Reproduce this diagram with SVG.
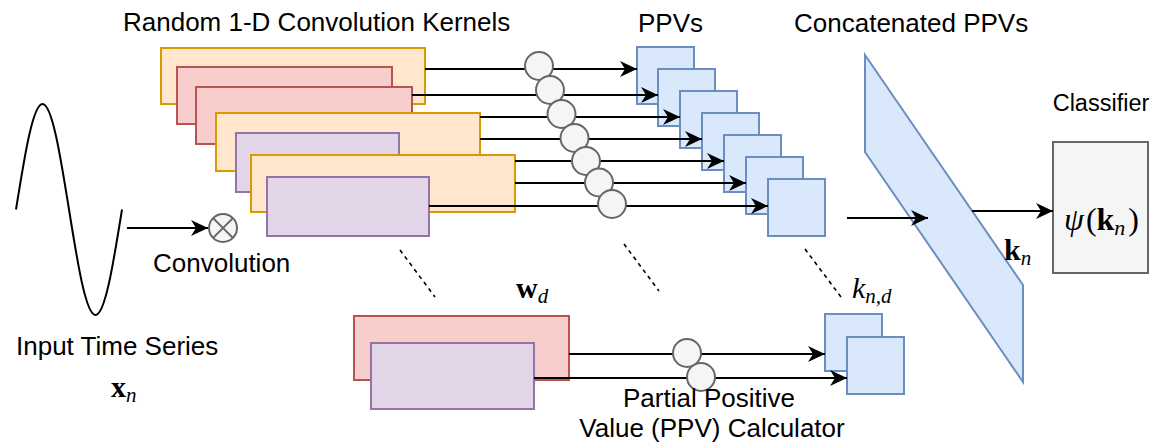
<svg xmlns="http://www.w3.org/2000/svg" width="1151" height="445" viewBox="0 0 1151 445">
  <style>
    .lbl { font-family: "Liberation Sans", Arial, Helvetica, sans-serif; font-size: 26px; fill: #000; }
    .small { font-size: 23.5px; }
    .math { font-family: "Liberation Serif", "DejaVu Serif", serif; font-size: 30px; fill: #000; }
    .sub { font-size: 21px; font-style: italic; }
    .orange { fill: #ffe6cc; stroke: #d79b00; stroke-width: 2; }
    .red { fill: #f8cecc; stroke: #b85450; stroke-width: 2; }
    .purple { fill: #e1d5e7; stroke: #9673a6; stroke-width: 2; }
    .blue { fill: #dae8fc; stroke: #6c8ebf; stroke-width: 2; }
    .calc { fill: #f5f5f5; stroke: #666666; stroke-width: 2; }
    .edge { fill: none; stroke: #000; stroke-width: 2; }
    .dash { fill: none; stroke: #000; stroke-width: 1.6; stroke-dasharray: 4 4; }
  </style>
  <defs>
    <marker id="arrow" markerUnits="userSpaceOnUse" viewBox="0 0 17 16" markerWidth="17" markerHeight="16" refX="17" refY="8" orient="auto">
      <path d="M0,0 L17,8 L0,16 L5,8 Z" fill="#000"/>
    </marker>
  </defs>

  <!-- input signal -->
  <g id="input-series">
    <path class="edge" d="M16,209.5 C24.64,155.45 32.91,104 42.5,104 C52.09,104 60.36,155.45 69,209.5 C77.64,263.55 85.91,315 95.5,315 C105.09,315 113.36,263.55 122,209.5"/>
    <text class="lbl" x="16" y="355">Input Time Series</text>
    <text class="math" x="111" y="397"><tspan font-weight="bold">x</tspan><tspan class="sub" dy="5">n</tspan></text>
  </g>

  <!-- convolution operator -->
  <g id="convolution">
    <circle class="calc" cx="223" cy="228" r="14"/>
    <path d="M213.1,218.1 L232.9,237.9 M232.9,218.1 L213.1,237.9" stroke="#666666" stroke-width="2"/>
    <text class="lbl" x="153" y="272">Convolution</text>
  </g>

  <!-- kernel stack -->
  <g id="kernels">
    <text class="lbl" x="123" y="31">Random 1-D Convolution Kernels</text>
    <rect id="kernel-1" class="orange" x="161" y="48" width="264" height="56"/>
    <rect id="kernel-2" class="red" x="177" y="67" width="215" height="57"/>
    <rect id="kernel-3" class="red" x="196" y="87" width="216" height="57"/>
    <rect id="kernel-4" class="orange" x="216" y="113" width="264" height="58"/>
    <rect id="kernel-5" class="purple" x="236" y="133" width="163" height="59"/>
    <rect id="kernel-6" class="orange" x="251" y="155" width="264" height="57"/>
    <rect id="kernel-7" class="purple" x="267" y="177" width="162" height="59"/>
  </g>

  <!-- PPV outputs -->
  <g id="ppvs">
    <text class="lbl" x="638" y="32">PPVs</text>
    <rect id="ppv-1" class="blue" x="637" y="47" width="57" height="57"/>
    <rect id="ppv-2" class="blue" x="658" y="69" width="57" height="57"/>
    <rect id="ppv-3" class="blue" x="680" y="91" width="57" height="57"/>
    <rect id="ppv-4" class="blue" x="702" y="113" width="57" height="57"/>
    <rect id="ppv-5" class="blue" x="724" y="135" width="57" height="57"/>
    <rect id="ppv-6" class="blue" x="746" y="157" width="57" height="57"/>
    <rect id="ppv-7" class="blue" x="768" y="179" width="57" height="57"/>
  </g>

  <!-- single kernel detail -->
  <g id="kernel-detail">
    <rect class="red" x="354" y="316" width="215" height="64"/>
    <rect class="purple" x="371" y="343" width="163" height="66"/>
    <text class="math" x="516" y="298"><tspan font-weight="bold">w</tspan><tspan class="sub" dy="5">d</tspan></text>
  </g>

  <g id="ppv-detail">
    <rect class="blue" x="825" y="314" width="57" height="57"/>
    <rect class="blue" x="847" y="337" width="57" height="57"/>
    <text class="math" x="852" y="298"><tspan font-style="italic">k</tspan><tspan class="sub" dy="5">n,d</tspan></text>
  </g>

  <!-- concatenated vector -->
  <g id="concatenated">
    <text class="lbl" x="794" y="32">Concatenated PPVs</text>
    <polygon class="blue" points="865,55 1023,285 1023,382 865,152"/>
    <text class="math" x="1004" y="260"><tspan font-weight="bold">k</tspan><tspan class="sub" dy="5">n</tspan></text>
  </g>

  <!-- classifier -->
  <g id="classifier">
    <text class="lbl small" x="1101" y="111" text-anchor="middle">Classifier</text>
    <rect class="calc" x="1053" y="142" width="95" height="131"/>
    <text class="math" x="1064" y="230" style="font-size:32px"><tspan font-style="italic">ψ</tspan><tspan dx="2">(</tspan><tspan font-weight="bold">k</tspan><tspan class="sub" style="font-size:22px" dy="5">n</tspan><tspan dx="3" dy="-5">)</tspan></text>
  </g>

  <!-- connectors -->
  <g id="connectors">
    <path class="edge" d="M127,228 H208" marker-end="url(#arrow)"/>
    <path class="edge" d="M425,69 H637" marker-end="url(#arrow)"/>
    <path class="edge" d="M412,95 H658" marker-end="url(#arrow)"/>
    <path class="edge" d="M480,117 H680" marker-end="url(#arrow)"/>
    <path class="edge" d="M480,139 H702" marker-end="url(#arrow)"/>
    <path class="edge" d="M515,161 H724" marker-end="url(#arrow)"/>
    <path class="edge" d="M515,183 H746" marker-end="url(#arrow)"/>
    <path class="edge" d="M429,206 H768" marker-end="url(#arrow)"/>
    <path class="edge" d="M569,354 H825" marker-end="url(#arrow)"/>
    <path class="edge" d="M534,378 H847" marker-end="url(#arrow)"/>
    <path class="edge" d="M847,218 H928" marker-end="url(#arrow)"/>
    <path class="edge" d="M972,211 H1053" marker-end="url(#arrow)"/>
    <path class="dash" d="M400,250 L435,297"/>
    <path class="dash" d="M624,244 L659,291"/>
    <path class="dash" d="M805,249 L841,297"/>
  </g>

  <!-- PPV calculators on each path -->
  <g id="calculators">
    <circle class="calc" cx="539" cy="66" r="14"/>
    <circle class="calc" cx="550" cy="90" r="14"/>
    <circle class="calc" cx="561.5" cy="114" r="14"/>
    <circle class="calc" cx="574.5" cy="138" r="14"/>
    <circle class="calc" cx="586" cy="161" r="14"/>
    <circle class="calc" cx="599" cy="182.5" r="14"/>
    <circle class="calc" cx="612" cy="204" r="14"/>
    <circle class="calc" cx="687" cy="353" r="14"/>
    <circle class="calc" cx="701" cy="377" r="14"/>
    <text class="lbl" x="709" y="407" text-anchor="middle">Partial Positive</text>
    <text class="lbl" x="712" y="437" text-anchor="middle">Value (PPV) Calculator</text>
  </g>
</svg>
